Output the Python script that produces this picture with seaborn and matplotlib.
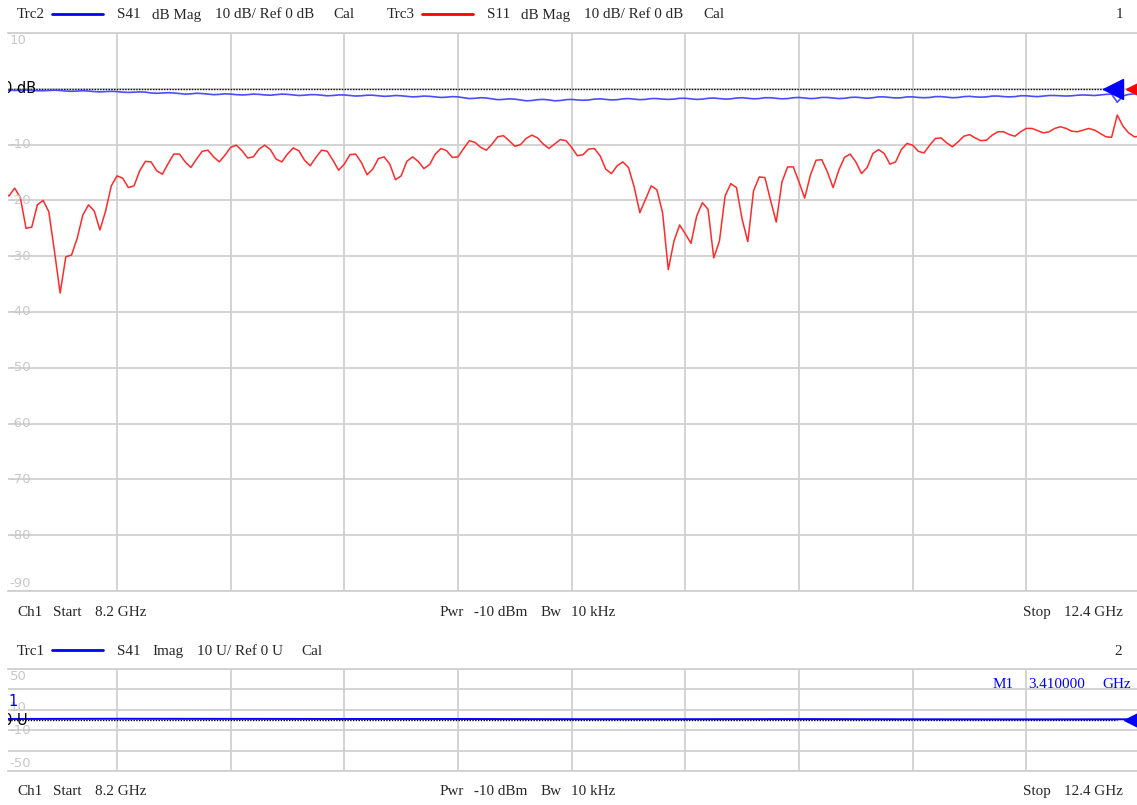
import numpy as np
import pandas as pd
import matplotlib
matplotlib.use("Agg")
import matplotlib.pyplot as plt
import matplotlib.transforms as mtransforms
import seaborn as sns

# sweep settings (from the channel footer)
start_ghz, stop_ghz, n_points = 8.2, 12.4, 201
freq = np.linspace(start_ghz, stop_ghz, n_points)

# Trc3  S11 dB Mag (one value per sweep point)
s11_db = [
    -18.6, -19.2, -17.8, -19.5, -25.0, -24.8, -20.8, -20.0, -22.0, -29.1,
    -36.6, -30.1, -29.8, -26.8, -22.6, -20.8, -21.9, -25.3, -21.9, -17.4,
    -15.6, -16.0, -17.7, -17.4, -14.7, -13.0, -13.1, -14.7, -15.3, -13.4,
    -11.7, -11.7, -13.1, -14.1, -12.6, -11.2, -11.0, -12.2, -13.1, -11.9,
    -10.5, -10.1, -11.1, -12.4, -12.2, -10.8, -10.1, -10.9, -12.6, -13.1,
    -11.7, -10.6, -11.1, -12.8, -13.8, -12.3, -11.0, -11.2, -12.8, -14.6,
    -13.5, -11.8, -11.7, -13.2, -15.4, -14.4, -12.5, -12.2, -13.5, -16.3,
    -15.6, -13.0, -12.2, -13.0, -14.3, -13.6, -11.7, -10.7, -11.1, -12.3,
    -12.2, -10.7, -9.3, -9.6, -10.5, -11.0, -9.9, -8.6, -8.4, -9.3,
    -10.3, -10.0, -8.9, -8.3, -8.8, -9.9, -10.7, -9.9, -9.1, -9.3,
    -10.5, -12.0, -11.8, -10.8, -10.7, -12.0, -14.4, -15.2, -13.8, -13.1,
    -14.1, -17.6, -22.2, -19.8, -17.4, -18.1, -22.2, -32.4, -27.3, -24.4,
    -26.0, -27.7, -22.8, -20.4, -21.6, -30.3, -27.3, -19.2, -17.0, -17.7,
    -23.4, -27.4, -18.3, -15.8, -15.9, -20.0, -23.9, -16.7, -14.0, -14.0,
    -16.7, -19.6, -15.5, -12.8, -12.7, -14.9, -17.7, -14.6, -12.3, -11.7,
    -13.1, -15.2, -14.1, -11.6, -10.9, -11.6, -13.5, -13.1, -10.9, -9.8,
    -10.1, -11.2, -11.5, -10.1, -8.9, -8.8, -9.7, -10.4, -9.5, -8.5,
    -8.2, -8.8, -9.3, -9.2, -8.3, -7.7, -7.7, -8.2, -8.5, -7.7,
    -7.1, -7.1, -7.5, -7.9, -7.7, -7.1, -6.8, -7.1, -7.6, -7.7,
    -7.4, -7.1, -7.4, -8.0, -8.6, -8.7, -4.7, -6.7, -7.9, -8.6,
    -8.5,
]

# Trc2  S41 dB Mag
s41_db = [
    -0.20, -0.25, -0.30, -0.25, -0.20, -0.25, -0.35, -0.35, -0.30, -0.25,
    -0.30, -0.40, -0.45, -0.40, -0.35, -0.40, -0.50, -0.55, -0.50, -0.45,
    -0.50, -0.60, -0.65, -0.60, -0.55, -0.60, -0.75, -0.80, -0.75, -0.70,
    -0.75, -0.85, -0.95, -0.90, -0.80, -0.85, -0.95, -1.05, -1.00, -0.90,
    -0.95, -1.05, -1.10, -1.05, -0.95, -1.00, -1.10, -1.15, -1.05, -0.95,
    -1.00, -1.10, -1.20, -1.15, -1.05, -1.05, -1.15, -1.25, -1.20, -1.10,
    -1.10, -1.20, -1.30, -1.25, -1.15, -1.15, -1.25, -1.35, -1.30, -1.20,
    -1.25, -1.35, -1.45, -1.40, -1.30, -1.35, -1.45, -1.55, -1.50, -1.40,
    -1.45, -1.60, -1.75, -1.70, -1.60, -1.65, -1.80, -1.95, -1.90, -1.80,
    -1.85, -2.00, -2.15, -2.10, -1.95, -1.90, -2.00, -2.15, -2.10, -1.95,
    -1.90, -2.00, -2.05, -2.00, -1.85, -1.80, -1.90, -2.00, -1.95, -1.80,
    -1.75, -1.85, -1.95, -1.90, -1.75, -1.75, -1.85, -1.90, -1.85, -1.70,
    -1.70, -1.80, -1.90, -1.85, -1.70, -1.65, -1.75, -1.85, -1.80, -1.65,
    -1.60, -1.70, -1.80, -1.75, -1.60, -1.60, -1.70, -1.80, -1.75, -1.60,
    -1.55, -1.65, -1.75, -1.70, -1.55, -1.55, -1.65, -1.75, -1.70, -1.55,
    -1.50, -1.60, -1.70, -1.60, -1.45, -1.45, -1.55, -1.65, -1.60, -1.45,
    -1.45, -1.55, -1.60, -1.55, -1.40, -1.40, -1.50, -1.60, -1.55, -1.40,
    -1.35, -1.45, -1.50, -1.45, -1.30, -1.30, -1.40, -1.45, -1.40, -1.25,
    -1.25, -1.35, -1.40, -1.30, -1.20, -1.20, -1.25, -1.30, -1.25, -1.15,
    -1.10, -1.15, -1.20, -1.10, -1.00, -0.95, -2.40, -1.30, -1.00, -0.90,
    -0.85,
]

# Trc1  S41 Imag (window 2)
imag_freq = [8.2, 8.62, 9.04, 9.46, 9.88, 10.3, 10.72, 11.14, 11.56, 11.98, 12.4]
s41_imag = [1.0, 1.2, 1.1, 1.0, 1.0, 0.8, 0.8, 0.9, 0.7, 0.6, 0.7]

top_ticks = [10, 0, -10, -20, -30, -40, -50, -60, -70, -80, -90]
bot_ticks = [50, 30, 10, -10, -30, -50]

assert len(s11_db) == n_points and len(s41_db) == n_points

df_top = pd.DataFrame({"freq": freq, "S11": s11_db, "S41": s41_db})
df_bot = pd.DataFrame({"freq": imag_freq, "Imag": s41_imag})

sns.set_theme(style="white")
plt.rcParams["font.family"] = ["DejaVu Sans"]

W, H = 1137, 805
fig = plt.figure(figsize=(W / 100, H / 100), dpi=100)
fig.patch.set_facecolor("white")


def box(x0, y0, x1, y1):
    return [x0 / W, 1 - y1 / H, (x1 - x0) / W, (y1 - y0) / H]


def ftext(x, y, s, **kw):
    kw.setdefault("family", "Liberation Serif")
    kw.setdefault("size", 10.9)
    kw.setdefault("va", "center")
    fig.text(x / W, 1 - y / H, s, **kw)


def fline(x0, x1, y, color):
    fig.add_artist(plt.Line2D([x0 / W, x1 / W], [1 - y / H, 1 - y / H],
                              transform=fig.transFigure, color=color, lw=2))


GRID = "#d0d0d0"
LBL = "#c8c8c8"
div_px = 113.7
f_left = start_ghz + (8 - 3.3) / div_px * 0.42
vgrid = [start_ghz + 0.42 * k for k in range(1, 10)]


def style_axes(ax, ylim, yticks):
    ax.set_xlim(f_left, stop_ghz)
    ax.set_ylim(*ylim)
    ax.set_xticks(vgrid)
    ax.set_yticks(yticks)
    ax.tick_params(labelleft=False, labelbottom=False, length=0)
    ax.grid(True, color=GRID, lw=1.3)
    for s in ["left", "right"]:
        ax.spines[s].set_visible(False)
    for s in ["top", "bottom"]:
        ax.spines[s].set_color(GRID)
        ax.spines[s].set_linewidth(1.3)
    ax.set_xlabel("")
    ax.set_ylabel("")
    ax.set_facecolor("white")


# ---- window 1 ----
ax1 = fig.add_axes(box(8, 33, 1140, 591))
ax1.axhline(0, xmax=0.97, color="black", lw=1.0, ls=(0, (1, 1)), zorder=2)
sns.lineplot(data=df_top, x="freq", y="S41", ax=ax1, color="#4b4bff",
             lw=1.2, estimator=None, sort=False, zorder=3)
sns.lineplot(data=df_top, x="freq", y="S11", ax=ax1, color="#ff2a2a",
             lw=1.1, estimator=None, sort=False, zorder=3)
style_axes(ax1, (-90, 10), top_ticks)

tr1 = mtransforms.blended_transform_factory(ax1.transAxes, ax1.transData)
lx = 1.5 / 1132
for t in top_ticks:
    if t == 0:
        continue
    yy = t
    if t == 10:
        yy = 8.7
    elif t == -90:
        yy = -88.6
    ax1.text(lx, yy, str(t), color=LBL, size=9.5, va="center", ha="left",
             transform=tr1)
ax1.text(-5 / 1132, 0, "0 dB", color="black", size=10.5, va="center",
         ha="left", transform=tr1, clip_on=True, zorder=4)
ax1.plot([(1113 - 8) / 1132], [0], marker="<", ms=14, color="#0000ff",
         transform=tr1, clip_on=False, zorder=5)
ax1.plot([(1136 - 8) / 1132], [0], marker="<", ms=14, color="#ff0000",
         transform=tr1, clip_on=False, zorder=5)

# ---- window 2 ----
ax2 = fig.add_axes(box(8, 669, 1140, 771))
ax2.axhline(0, xmax=0.98, color="black", lw=1.0, ls=(0, (1, 1)), zorder=2)
sns.lineplot(data=df_bot, x="freq", y="Imag", ax=ax2, color="#0000ff",
             lw=1.4, estimator=None, sort=False, zorder=3)
style_axes(ax2, (-50, 50), bot_ticks)

tr2 = mtransforms.blended_transform_factory(ax2.transAxes, ax2.transData)
for t, yy in zip([50, 10, -10, -50], [42.2, 12.0, -10.5, -42.2]):
    ax2.text(lx, yy, str(t), color=LBL, size=9.5, va="center", ha="left",
             transform=tr2)
ax2.text(-5 / 1132, 0, "0 U", color="black", size=10.5, va="center",
         ha="left", transform=tr2, clip_on=True, zorder=4)
ax2.text(0.5 / 1132, 18.6, "1", color="#0000ff", size=10.5, va="center",
         ha="left", transform=tr2, zorder=4)
ax2.plot([(1134 - 8) / 1132], [0], marker="<", ms=14, color="#0000ff",
         transform=tr2, clip_on=False, zorder=5)

# ---- header / footer texts ----
ftext(17, 15, "Trc2")
fline(52, 103, 13.7, "#0000ff")
ftext(117, 15, "S41")
ftext(152, 15, "dB Mag")
ftext(215, 15, "10 dB/ Ref 0 dB")
ftext(333, 15, "Cal")
ftext(387, 15, "Trc3")
fline(422, 473, 13.7, "#ff0000")
ftext(487, 15, "S11")
ftext(521, 15, "dB Mag")
ftext(584, 15, "10 dB/ Ref 0 dB")
ftext(703, 15, "Cal")
ftext(1123, 15, "1", ha="right")

for yy in (612, 791):
    ftext(17, yy, "Ch1")
    ftext(53, yy, "Start")
    ftext(95, yy, "8.2 GHz")
    ftext(440, yy, "Pwr")
    ftext(474, yy, "-10 dBm")
    ftext(541, yy, "Bw")
    ftext(571, yy, "10 kHz")
    ftext(1023, yy, "Stop")
    ftext(1064, yy, "12.4 GHz")

ftext(17, 651, "Trc1")
fline(52, 103, 650, "#0000ff")
ftext(117, 651, "S41")
ftext(152, 651, "Imag")
ftext(197, 651, "10 U/ Ref 0 U")
ftext(301, 651, "Cal")
ftext(1122, 651, "2", ha="right")

ftext(993, 684, "M1", color="#0000ff")
ftext(1028, 684, "3.410000", color="#0000ff")
ftext(1102, 684, "GHz", color="#0000ff")

plt.savefig("out.png", dpi=100)
